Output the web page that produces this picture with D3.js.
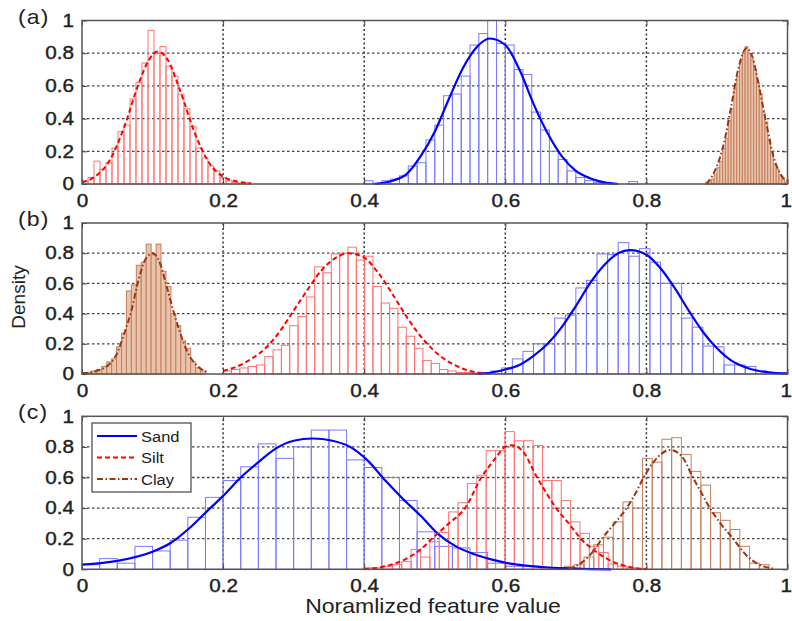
<!DOCTYPE html>
<html>
<head>
<meta charset="utf-8">
<script src="https://cdn.jsdelivr.net/npm/d3@7"></script>
<style>
  body { margin: 0; background: #fff; }
  text { font-family: "Liberation Sans", Arial, sans-serif; fill: #222; }
</style>
</head>
<body>
<div id="chart"></div>
<script>
// ---- data ----
const tickValues = [0, 0.2, 0.4, 0.6, 0.8, 1];
const tickLabels = ["0", "0.2", "0.4", "0.6", "0.8", "1"];
const gridValues = [0.2, 0.4, 0.6, 0.8];
const seriesNames = ["Sand", "Silt", "Clay"];
const panelTags = ["(a)", "(b)", "(c)"];

// histograms: first bin edge, bin width, bar heights
const aSiltStart = 0, aSiltWidth = 0.0085;
const aSiltBars = [0.02, 0.04, 0.14, 0.09, 0.13, 0.22, 0.32, 0.36, 0.52, 0.62, 0.74, 0.94, 0.80, 0.84,
  0.72, 0.66, 0.55, 0.46, 0.35, 0.22, 0.16, 0.11, 0.08, 0.04, 0.02, 0.01, 0.005, 0.01];
const aSandStart = 0.40, aSandWidth = 0.0125;
const aSandBars = [0.02, 0.005, 0.02, 0.03, 0.05, 0.11, 0.13, 0.27, 0.36, 0.54, 0.55, 0.66, 0.85, 0.92,
  1.0, 0.86, 0.85, 0.70, 0.67, 0.44, 0.33, 0.20, 0.15, 0.08, 0.04, 0.02, 0.01, 0.005, 0.0, 0.0, 0.015];
const aClayStart = 0.884, aClayWidth = 0.004;
const aClayBars = [0.01, 0.02, 0.03, 0.06, 0.10, 0.14, 0.22, 0.28, 0.39, 0.46, 0.58, 0.66, 0.75, 0.80,
  0.84, 0.80, 0.76, 0.70, 0.62, 0.55, 0.44, 0.38, 0.27, 0.20, 0.12, 0.09, 0.05, 0.03, 0.01];

const bClayStart = 0, bClayWidth = 0.007;
const bClayBars = [0.01, 0.01, 0.02, 0.03, 0.05, 0.08, 0.10, 0.18, 0.27, 0.55, 0.59, 0.72, 0.74, 0.86,
  0.79, 0.86, 0.68, 0.58, 0.40, 0.32, 0.22, 0.17, 0.08, 0.04, 0.02];
const bSiltStart = 0.20, bSiltWidth = 0.0118;
const bSiltBars = [0.02, 0.03, 0.04, 0.05, 0.06, 0.115, 0.16, 0.19, 0.32, 0.38, 0.51, 0.71, 0.67, 0.795,
  0.80, 0.84, 0.755, 0.78, 0.58, 0.47, 0.435, 0.31, 0.25, 0.17, 0.09, 0.07, 0.03, 0.02, 0.01, 0.01, 0.005, 0.0];
const bSandStart = 0.55, bSandWidth = 0.015;
const bSandBars = [0.005, 0.01, 0.02, 0.04, 0.10, 0.15, 0.20, 0.20, 0.37, 0.39, 0.57, 0.62, 0.795, 0.79,
  0.87, 0.78, 0.83, 0.74, 0.60, 0.60, 0.37, 0.31, 0.185, 0.18, 0.06, 0.06, 0.05, 0.02, 0.01, 0.01];

const cSandStart = 0, cSandWidth = 0.025;
const cSandBars = [0.03, 0.07, 0.04, 0.15, 0.12, 0.19, 0.34, 0.47, 0.58, 0.67, 0.82, 0.725, 0.80, 0.91,
  0.91, 0.715, 0.665, 0.60, 0.45, 0.245, 0.15, 0.14, 0.11, 0.04, 0.02, 0.02, 0.01, 0.01];
const cSiltStart = 0.40, cSiltWidth = 0.0133;
const cSiltBars = [0.01, 0.01, 0.02, 0.03, 0.05, 0.13, 0.08, 0.18, 0.24, 0.375, 0.435, 0.56, 0.615, 0.775,
  0.775, 0.90, 0.84, 0.84, 0.81, 0.58, 0.58, 0.45, 0.31, 0.235, 0.15, 0.11, 0.035, 0.02, 0.01, 0.005];
const cClayStart = 0.684, cClayWidth = 0.0138;
const cClayBars = [0.02, 0.03, 0.08, 0.16, 0.21, 0.31, 0.44, 0.40, 0.725, 0.70, 0.85, 0.86, 0.75, 0.64,
  0.55, 0.37, 0.32, 0.26, 0.15, 0.04, 0.03];

// fitted density curves: [value, density]
const aSiltCurve = [[0, 0.01], [0.02, 0.05], [0.04, 0.15], [0.06, 0.35], [0.08, 0.61], [0.095, 0.76],
  [0.107, 0.81], [0.12, 0.77], [0.14, 0.56], [0.16, 0.31], [0.18, 0.13], [0.2, 0.045], [0.22, 0.015], [0.24, 0.003]];
const aSandCurve = [[0.415, 0.0], [0.44, 0.02], [0.46, 0.06], [0.48, 0.17], [0.50, 0.32], [0.52, 0.52],
  [0.54, 0.71], [0.56, 0.84], [0.578, 0.89], [0.60, 0.85], [0.62, 0.70], [0.64, 0.49], [0.66, 0.31],
  [0.68, 0.17], [0.70, 0.08], [0.72, 0.035], [0.74, 0.01], [0.76, 0.0]];
const aClayCurve = [[0.885, 0.0], [0.9, 0.11], [0.91, 0.25], [0.92, 0.47], [0.93, 0.7], [0.942, 0.83],
  [0.95, 0.78], [0.96, 0.59], [0.97, 0.37], [0.98, 0.17], [0.99, 0.06], [1.0, 0.02]];

const bClayCurve = [[0, 0.005], [0.02, 0.02], [0.04, 0.07], [0.05, 0.14], [0.06, 0.27], [0.07, 0.42],
  [0.08, 0.62], [0.09, 0.76], [0.1, 0.8], [0.11, 0.74], [0.12, 0.58], [0.13, 0.41], [0.14, 0.26],
  [0.15, 0.14], [0.16, 0.07], [0.17, 0.03], [0.18, 0.01]];
const bSiltCurve = [[0.2, 0.02], [0.22, 0.05], [0.24, 0.1], [0.26, 0.17], [0.28, 0.28], [0.3, 0.42],
  [0.32, 0.56], [0.34, 0.69], [0.36, 0.77], [0.378, 0.8], [0.40, 0.77], [0.42, 0.67], [0.44, 0.53],
  [0.46, 0.38], [0.48, 0.25], [0.50, 0.15], [0.52, 0.08], [0.54, 0.035], [0.56, 0.01], [0.58, 0.0]];
const bSandCurve = [[0.56, 0.0], [0.58, 0.01], [0.60, 0.03], [0.62, 0.06], [0.64, 0.12], [0.66, 0.2],
  [0.68, 0.31], [0.70, 0.45], [0.72, 0.6], [0.74, 0.72], [0.76, 0.8], [0.777, 0.82], [0.80, 0.79],
  [0.82, 0.7], [0.84, 0.57], [0.86, 0.42], [0.88, 0.28], [0.90, 0.17], [0.92, 0.09], [0.94, 0.045],
  [0.96, 0.02], [0.98, 0.007], [1.0, 0.002]];

const cSandCurve = [[0, 0.03], [0.05, 0.055], [0.1, 0.115], [0.125, 0.17], [0.15, 0.26], [0.175, 0.37],
  [0.2, 0.48], [0.225, 0.6], [0.25, 0.7], [0.275, 0.79], [0.3, 0.84], [0.327, 0.855], [0.355, 0.84],
  [0.38, 0.8], [0.405, 0.71], [0.43, 0.58], [0.455, 0.46], [0.48, 0.35], [0.505, 0.23], [0.53, 0.15],
  [0.555, 0.1], [0.58, 0.065], [0.61, 0.035], [0.65, 0.015], [0.7, 0.005], [0.75, 0.0]];
const cSiltCurve = [[0.4, 0.0], [0.43, 0.02], [0.46, 0.07], [0.48, 0.13], [0.496, 0.2], [0.52, 0.3],
  [0.543, 0.4], [0.566, 0.6], [0.585, 0.72], [0.6, 0.8], [0.61, 0.81], [0.625, 0.77], [0.645, 0.6],
  [0.658, 0.5], [0.672, 0.4], [0.69, 0.3], [0.707, 0.2], [0.73, 0.11], [0.75, 0.055], [0.772, 0.02], [0.8, 0.0]];
const cClayCurve = [[0.69, 0.0], [0.71, 0.05], [0.725, 0.12], [0.737, 0.2], [0.755, 0.3], [0.772, 0.4],
  [0.785, 0.5], [0.796, 0.6], [0.81, 0.7], [0.834, 0.78], [0.85, 0.74], [0.866, 0.6], [0.878, 0.5],
  [0.89, 0.4], [0.905, 0.3], [0.923, 0.2], [0.94, 0.1], [0.96, 0.03], [0.98, 0.005]];

// ---- styles ----
const style = {
  Sand: { bar: "#7a7aff", fill: "none", line: "#0000ff", dash: null, width: 2.2 },
  Silt: { bar: "#ff7373", fill: "none", line: "#ff0000", dash: "5,3", width: 2 },
  Clay: { bar: "#c67f5e", fill: "#e8c4ad", line: "#9b3512", dash: "6,2.5,1.5,2.5", width: 2 }
};
const stretch = "scale(1.15,1)";

const panels = [
  { top: 20.5, bottom: 184,
    hists: [["Silt", aSiltStart, aSiltWidth, aSiltBars, true], ["Sand", aSandStart, aSandWidth, aSandBars, true],
            ["Clay", aClayStart, aClayWidth, aClayBars, true]],
    curves: [["Silt", aSiltCurve], ["Sand", aSandCurve], ["Clay", aClayCurve]] },
  { top: 223, bottom: 374,
    hists: [["Clay", bClayStart, bClayWidth, bClayBars, true], ["Silt", bSiltStart, bSiltWidth, bSiltBars, true],
            ["Sand", bSandStart, bSandWidth, bSandBars, true]],
    curves: [["Clay", bClayCurve], ["Silt", bSiltCurve], ["Sand", bSandCurve]] },
  { top: 416.3, bottom: 569.3,
    hists: [["Sand", cSandStart, cSandWidth, cSandBars, true], ["Silt", cSiltStart, cSiltWidth, cSiltBars, true],
            ["Clay", cClayStart, cClayWidth, cClayBars, false]],
    curves: [["Sand", cSandCurve], ["Silt", cSiltCurve], ["Clay", cClayCurve]] }
];

const svg = d3.select("#chart").append("svg")
  .attr("width", 792)
  .attr("height", 621);

const x = d3.scaleLinear().domain([0, 1]).range([82, 787.5]);

panels.forEach(function(p, pi) {
  const y = d3.scaleLinear().domain([0, 1]).range([p.bottom, p.top]);
  const g = svg.append("g");

  // grid
  g.append("g").selectAll("line").data(gridValues).join("line")
    .attr("x1", d => x(d)).attr("x2", d => x(d))
    .attr("y1", y(0)).attr("y2", y(1))
    .attr("stroke", "#333").attr("stroke-width", 1.5).attr("stroke-dasharray", "2,2.5");
  g.append("g").selectAll("line").data(gridValues).join("line")
    .attr("x1", x(0)).attr("x2", x(1))
    .attr("y1", d => y(d)).attr("y2", d => y(d))
    .attr("stroke", "#444").attr("stroke-width", 1.3).attr("stroke-dasharray", "2.5,2.5");

  // histogram bars
  p.hists.forEach(function(h) {
    const s = style[h[0]], start = h[1], w = h[2];
    g.append("g").selectAll("rect").data(h[3]).join("rect")
      .attr("x", (d, i) => x(start + i * w))
      .attr("width", (d, i) => x(start + (i + 1) * w) - x(start + i * w))
      .attr("y", d => y(d))
      .attr("height", d => y(0) - y(d))
      .attr("fill", h[4] ? s.fill : "none")
      .attr("stroke", s.bar)
      .attr("stroke-width", 1);
  });

  // fitted curves
  const line = d3.line()
    .x(d => x(d[0]))
    .y(d => y(d[1]))
    .curve(d3.curveMonotoneX);
  p.curves.forEach(function(c) {
    const s = style[c[0]];
    g.append("path").datum(c[1])
      .attr("d", line)
      .attr("fill", "none")
      .attr("stroke", s.line)
      .attr("stroke-width", s.width)
      .attr("stroke-dasharray", s.dash);
  });

  // axes with inward ticks (matlab style)
  const xAxis = g.append("g").attr("transform", "translate(0," + p.bottom + ")")
    .call(d3.axisBottom(x).tickValues(tickValues).tickFormat((d, i) => tickLabels[i])
      .tickSize(-5).tickPadding(10));
  g.append("g").attr("transform", "translate(" + x(0) + ",0)")
    .call(d3.axisLeft(y).tickValues(tickValues).tickFormat((d, i) => tickLabels[i])
      .tickSize(-5).tickPadding(7));
  g.append("g").attr("transform", "translate(0," + p.top + ")")
    .call(d3.axisTop(x).tickValues(tickValues).tickFormat("").tickSize(-5));
  g.append("g").attr("transform", "translate(" + x(1) + ",0)")
    .call(d3.axisRight(y).tickValues(tickValues).tickFormat("").tickSize(-5));
  g.selectAll(".domain").remove();
  g.selectAll(".tick line").attr("stroke", "#444");
  g.selectAll(".tick text")
    .attr("font-size", 18)
    .attr("font-family", "Liberation Sans, Arial, sans-serif")
    .attr("fill", "#222")
    .attr("stroke", "#222")
    .attr("stroke-width", 0.4)
    .attr("transform", stretch);
  // keep the last x label ("1") inside the picture
  xAxis.selectAll(".tick").filter(d => d === 1).select("text")
    .attr("text-anchor", "end").attr("x", 3.5);

  // frame
  g.append("rect")
    .attr("x", x(0)).attr("y", y(1))
    .attr("width", x(1) - x(0)).attr("height", y(0) - y(1))
    .attr("fill", "none").attr("stroke", "#555").attr("stroke-width", 1.5);

  // panel tag
  svg.append("text")
    .attr("transform", "translate(18," + (p.top + 3) + ") " + stretch)
    .attr("font-size", 20)
    .attr("letter-spacing", 1)
    .text(panelTags[pi]);

  // legend in last panel
  if (pi === 2) {
    const lg = g.append("g").attr("transform", "translate(92,423)");
    lg.append("rect").attr("width", 99).attr("height", 69)
      .attr("fill", "#fff").attr("stroke", "#444").attr("stroke-width", 1.2);
    seriesNames.forEach(function(name, k) {
      const s = style[name];
      lg.append("line")
        .attr("x1", 5).attr("x2", 45).attr("y1", 13 + k * 21.5).attr("y2", 13 + k * 21.5)
        .attr("stroke", s.line).attr("stroke-width", 2.2).attr("stroke-dasharray", s.dash);
      lg.append("text")
        .attr("transform", "translate(49," + (18.5 + k * 21.5) + ") scale(1.1,1)")
        .attr("font-size", 15)
        .text(name);
    });
  }
});

// axis titles
svg.append("text")
  .attr("transform", "translate(25,297) rotate(-90)")
  .attr("text-anchor", "middle")
  .attr("font-size", 19)
  .text("Density");
svg.append("text")
  .attr("transform", "translate(433,613) " + stretch)
  .attr("text-anchor", "middle")
  .attr("font-size", 20)
  .text("Noramlized feature value");
</script>
</body>
</html>
